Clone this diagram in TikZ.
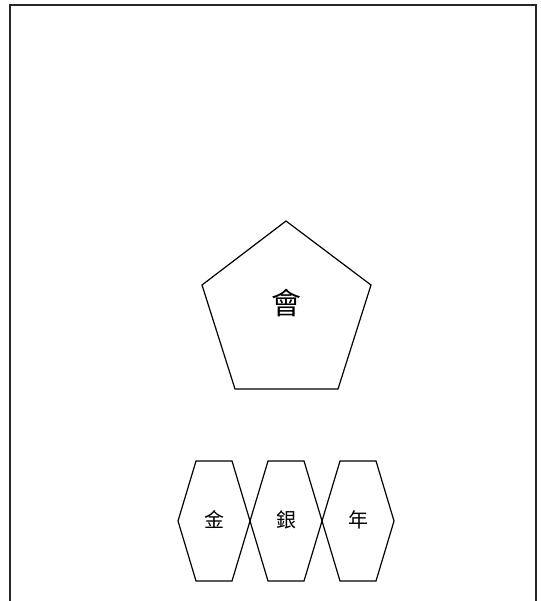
\documentclass[tikz,border=0pt]{standalone}
\usepackage{fontspec}
\newfontfamily\cjkfont{Noto Sans CJK TC}
\usetikzlibrary{calc}
\begin{document}
\begin{tikzpicture}[x=1pt,y=-1pt,
  shapeline/.style={draw=black, line width=1.2pt, line join=miter},
  bigchar/.style={font=\cjkfont\fontsize{30}{30}\selectfont, inner sep=0pt},
  smallchar/.style={font=\cjkfont\fontsize{20}{20}\selectfont, inner sep=0pt}]
\useasboundingbox (0,0) rectangle (540,601);
% frame, open at the bottom
\draw[line width=1.6pt, draw=black!85] (10,601) -- (10,5) -- (536,5) -- (536,601);
% pentagon
\node[bigchar] (hui) at (286,303) {會};
\draw[shapeline] (286,221) -- (371,285) -- (338,389) -- (235,389) -- (202,285) -- cycle;
% hexagons
\foreach \ch [count=\i] in {金,銀,年} {
  \node[smallchar] (hex\i) at ({214+72*(\i-1)},520) {\ch};
  \draw[shapeline] ($(hex\i)+(-36,1)$) -- ++(18,-60) -- ++(36,0) -- ++(18,60) -- ++(-18,60) -- ++(-36,0) -- cycle;
}
\end{tikzpicture}
\end{document}
